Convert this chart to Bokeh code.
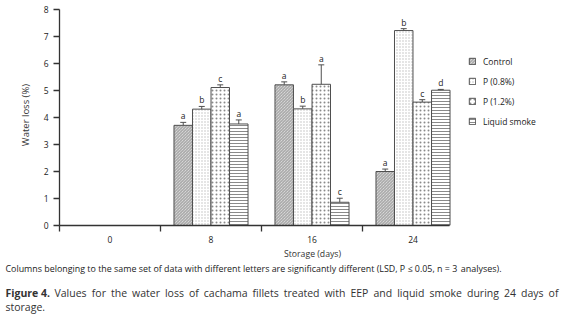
import math
from bokeh.plotting import figure
from bokeh.models import (ColumnDataSource, Range1d, FixedTicker, Whisker, TeeHead,
                          Legend, LegendItem)
from bokeh.layouts import column, row
from bokeh.core.properties import value
from bokeh.embed import file_html
from bokeh.resources import INLINE

FONT = "Open Sans"

# ---- data ----
days = ["0", "8", "16", "24"]
series = ["Control", "P (0.8%)", "P (1.2%)", "Liquid smoke"]
control = [None, 3.71, 5.21, 2.00]
control_err = [None, 0.11, 0.11, 0.09]
p08 = [None, 4.31, 4.32, 7.22]
p08_err = [None, 0.10, 0.10, 0.07]
p12 = [None, 5.11, 5.23, 4.57]
p12_err = [None, 0.10, 0.72, 0.09]
smoke = [None, 3.76, 0.86, 5.01]
smoke_err = [None, 0.15, 0.15, 0.03]
letters_control = [None, "a", "a", "a"]
letters_p08 = [None, "b", "b", "b"]
letters_p12 = [None, "c", "a", "c"]
letters_smoke = [None, "a", "c", "d"]
y_ticks = [0, 1, 2, 3, 4, 5, 6, 7, 8]

y_title = "Water loss (%)"
x_title = "Storage (days)"
note_text = "Columns belonging to the same set of data with different letters are significantly different (LSD, P \u2264 0.05, n = 3"
note_tail = "analyses)."
fig_bold = "Figure 4."
fig_line1 = "Values for the water loss of cachama fillets treated with EEP and liquid smoke during 24 days of"
fig_line2 = "storage."

values = [control, p08, p12, smoke]
errors = [control_err, p08_err, p12_err, smoke_err]
letters = [letters_control, letters_p08, letters_p12, letters_smoke]

offsets = [-0.275, -0.0917, 0.0917, 0.275]
bar_w = 0.183
SLOT_PX = 101

styles = [
    dict(fill_color="#ececec", hatch_pattern="\\", hatch_color="#9a9a9a", hatch_scale=3, hatch_weight=1),
    dict(fill_color="#ffffff", hatch_pattern=".", hatch_color="#bdbdbd", hatch_scale=3, hatch_weight=1),
    dict(fill_color="#ffffff", hatch_pattern=".", hatch_color="#8a8a8a", hatch_scale=4, hatch_weight=1.5),
    dict(fill_color="#ffffff", hatch_pattern="-", hatch_color="#8a8a8a", hatch_scale=3, hatch_weight=1),
]

# approximate Open Sans advance widths (units of 1/2048 em), used to justify the caption
ADV = {" ": 532, ".": 545, ",": 502, "(": 604, ")": 604, "=": 1171, "\u2264": 1171,
       "A": 1296, "C": 1292, "D": 1493, "E": 1139, "F": 1057, "L": 1044, "P": 1237,
       "S": 1098, "V": 1255,
       "a": 1139, "b": 1255, "c": 975, "d": 1255, "e": 1149, "f": 694, "g": 1122,
       "h": 1257, "i": 518, "j": 518, "k": 1075, "l": 518, "m": 1905, "n": 1257,
       "o": 1237, "p": 1255, "q": 1255, "r": 836, "s": 977, "t": 723, "u": 1257,
       "v": 1026, "w": 1593, "x": 1073, "y": 1028, "z": 977}


def text_w(s, size):
    return sum(ADV.get(ch, 1171 if ch.isdigit() else 1100) for ch in s) / 2048 * size


TOP_H = 262
LEFT_W = 38

# ---- left strip with the y-axis title ----
left = figure(width=LEFT_W, height=TOP_H, output_backend="svg", toolbar_location=None,
              x_range=Range1d(0, LEFT_W), y_range=Range1d(TOP_H, 0),
              min_border=0, title=None)
left.axis.visible = False
left.grid.visible = False
left.outline_line_color = None
left.text(x=[25], y=[128], text=[y_title], angle=math.pi / 2,
          text_align="center", text_baseline="middle", text_font=value(FONT),
          text_font_size="9.5px", text_color="#333333")

# ---- main chart ----
MAIN_W = 568 - LEFT_W
FRAME_W = MAIN_W - 21 - 3
p = figure(width=MAIN_W, height=TOP_H, output_backend="svg", toolbar_location=None,
           x_range=Range1d(-0.5, -0.5 + FRAME_W / SLOT_PX), y_range=Range1d(0, 8),
           min_border_left=21, min_border_right=3, min_border_top=9, min_border_bottom=36,
           title=None)
p.xgrid.visible = False
p.ygrid.visible = False
p.outline_line_color = None

renderers = []
for k in range(4):
    xs, tops, ups, los, labs = [], [], [], [], []
    for i in range(len(days)):
        v = values[k][i]
        if v is None:
            continue
        e = errors[k][i]
        xs.append(i + offsets[k])
        tops.append(v)
        ups.append(v + e)
        los.append(v - e)
        labs.append(letters[k][i])
    src = ColumnDataSource(dict(x=xs, top=tops, upper=ups, lower=los, lab=labs))
    r = p.vbar(x="x", top="top", width=bar_w, bottom=0, source=src,
               line_color="#4f4f4f", line_width=1, **styles[k])
    renderers.append(r)
    w = Whisker(source=src, base="x", upper="upper", lower="lower",
                line_color="#4f4f4f", line_width=1,
                upper_head=TeeHead(size=6, line_color="#4f4f4f", line_width=1),
                lower_head=TeeHead(size=6, line_color="#4f4f4f", line_width=1))
    p.add_layout(w)
    p.text(x="x", y="upper", text="lab", source=src, text_align="center",
           text_baseline="bottom", y_offset=-1, text_font=value(FONT),
           text_font_size="8.5px", text_color="#222222")

x_end = -0.5 + 390 / SLOT_PX
xa = p.xaxis[0]
xa.bounds = (-0.5, x_end)
xa.ticker = FixedTicker(ticks=[0, 1, 2, 3], minor_ticks=[-0.5, 0.5, 1.5, 2.5])
xa.major_label_overrides = {i: d for i, d in enumerate(days)}
xa.major_tick_line_color = None
xa.major_tick_out = 0
xa.major_tick_in = 0
xa.minor_tick_out = 6
xa.minor_tick_in = 0
xa.minor_tick_line_color = "#333333"
xa.minor_tick_line_width = 1.3
xa.major_label_standoff = 4
xa.axis_label = x_title
xa.axis_label_standoff = 2
xa.axis_label_text_font = FONT
xa.axis_label_text_font_size = "8.7px"
xa.axis_label_text_font_style = "normal"
xa.axis_label_text_color = "#333333"

ya = p.yaxis[0]
ya.ticker = FixedTicker(ticks=y_ticks)
ya.major_tick_out = 6
ya.major_tick_in = 0
ya.minor_tick_line_color = None
ya.major_tick_line_color = "#333333"
ya.major_tick_line_width = 1.3
ya.major_label_standoff = 5
for ax in (xa, ya):
    ax.axis_line_color = "#333333"
    ax.axis_line_width = 1.3
    ax.major_label_text_font = FONT
    ax.major_label_text_font_size = "8.5px"
    ax.major_label_text_color = "#222222"

legend = Legend(items=[LegendItem(label=s, renderers=[r]) for s, r in zip(series, renderers)],
                location=(409, 94), glyph_width=8, glyph_height=8, label_height=20,
                spacing=0, padding=0, margin=0, label_standoff=7,
                border_line_color=None, background_fill_alpha=0,
                label_text_font=FONT, label_text_font_size="8.5px", label_text_color="#222222")
p.add_layout(legend)

# ---- caption strip ----
BOT_H = 315 - TOP_H
cap = figure(width=568, height=BOT_H, output_backend="svg", toolbar_location=None,
             x_range=Range1d(0, 568), y_range=Range1d(BOT_H, 0), min_border=0, title=None)
cap.axis.visible = False
cap.grid.visible = False
cap.outline_line_color = None


def put(xs, ys, texts, size, bold=False, color="#222222"):
    cap.text(x=xs, y=ys, text=texts, text_align="left", text_baseline="middle",
             text_font=value(FONT), text_font_size=f"{size}px",
             text_font_style="bold" if bold else "normal", text_color=color)


NOTE_SIZE = 8.9
put([5], [6], [note_text], NOTE_SIZE)
put([5 + text_w(note_text + " ", NOTE_SIZE)], [6], [note_tail], 9)

FIG_SIZE = 10.5
put([5], [30.5], [fig_bold], FIG_SIZE, bold=True, color="#333333")
# justified line: spread the words between x=54 and x=558
words = fig_line1.split(" ")
x0, x1 = 54, 558
total = sum(text_w(wd, FIG_SIZE) for wd in words)
gap = (x1 - x0 - total) / (len(words) - 1)
wx, cur = [], x0
for wd in words:
    wx.append(cur)
    cur += text_w(wd, FIG_SIZE) + gap
put(wx, [30.5] * len(words), words, FIG_SIZE, color="#333333")
put([5], [44], [fig_line2], FIG_SIZE, color="#333333")

layout = column(row(left, p), cap)
open("out.html", "w").write(file_html(layout, INLINE))
